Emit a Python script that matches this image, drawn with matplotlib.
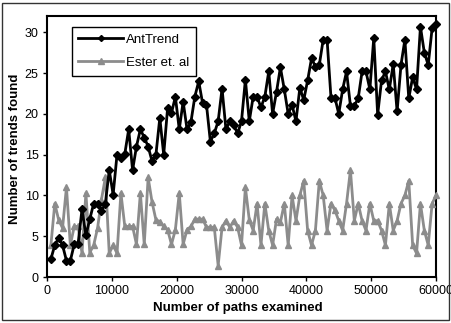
import matplotlib
matplotlib.use("Agg")
from matplotlib import pyplot as plt
from matplotlib.patches import Rectangle

plt.rcParams['font.family'] = ['Liberation Sans', 'DejaVu Sans']

# paths examined: every 600 up to 60000
paths = [600 * (i + 1) for i in range(100)]

ant_trend = [2.2, 3.9, 4.8, 3.9, 2.0, 2.0, 4.0, 4.1, 8.3, 5.1,
             7.1, 9.0, 9.0, 8.1, 9.0, 13.1, 10.1, 15.0, 14.6, 15.1,
             18.1, 13.1, 16.0, 18.1, 17.1, 16.0, 14.2, 15.0, 19.5, 15.0,
             20.7, 20.1, 22.1, 18.1, 21.5, 18.1, 19.0, 22.1, 24.0, 21.3,
             21.1, 16.6, 17.6, 19.1, 23.1, 18.1, 19.1, 18.6, 17.6, 19.1,
             24.2, 19.1, 22.1, 22.1, 20.8, 22.1, 25.2, 20.0, 22.7, 25.7,
             23.0, 20.0, 21.1, 19.1, 23.2, 21.7, 24.1, 26.8, 25.8, 26.0,
             29.1, 29.1, 22.0, 22.0, 20.0, 23.0, 25.2, 21.0, 21.0, 21.9,
             25.2, 25.2, 23.0, 29.3, 19.9, 24.1, 25.2, 23.0, 26.1, 20.3,
             26.0, 29.1, 21.9, 24.5, 23.0, 30.7, 27.5, 26.0, 30.5, 31.0]

ester = [3.9, 9.0, 7.0, 6.0, 11.0, 3.9, 6.2, 6.2, 2.9, 10.3,
         3.0, 3.9, 6.0, 9.5, 12.2, 2.9, 3.9, 2.9, 10.3, 6.2,
         6.2, 6.2, 4.0, 10.3, 4.0, 12.2, 9.2, 7.0, 6.8, 6.2,
         5.8, 4.0, 5.8, 10.3, 4.0, 5.8, 6.2, 7.1, 7.1, 7.1,
         6.1, 6.1, 6.1, 1.4, 6.1, 6.9, 6.1, 6.9, 6.1, 3.9,
         11.0, 7.0, 5.7, 9.0, 3.9, 9.0, 5.7, 3.9, 7.1, 6.7,
         9.0, 3.9, 10.0, 6.9, 10.0, 11.8, 5.7, 3.9, 5.7, 11.8,
         10.0, 5.7, 9.0, 8.2, 6.9, 5.7, 9.0, 13.1, 6.9, 9.0,
         6.9, 5.7, 9.0, 6.9, 6.9, 5.7, 3.9, 9.0, 5.7, 6.9,
         9.0, 10.0, 11.8, 3.9, 2.9, 9.0, 5.7, 3.9, 9.0, 10.0]

fs = 9.5

fig = plt.figure(figsize=(4.51, 3.23), dpi=100)
ax = fig.add_axes([47 / 451, 46 / 323, 389 / 451, 261 / 323])

ax.plot(paths, ester, color='#8c8c8c', lw=2, marker='^', ms=5,
        label='Ester et. al', clip_on=False, zorder=3)
ax.plot(paths, ant_trend, color='black', lw=2, marker='D', ms=3.8,
        label='AntTrend', clip_on=False, zorder=4)

ax.set_xlim(0, 60000)
ax.set_ylim(0, 32)
ax.set_xticks(range(0, 60001, 10000))
ax.set_yticks(range(0, 31, 5))
ax.tick_params(direction='out', length=3, width=1, labelsize=9, pad=3)
for s in ax.spines.values():
    s.set_linewidth(1.5)

ax.set_xlabel('Number of paths examined', fontsize=fs, fontweight='bold')
ax.set_ylabel('Number of trends found', fontsize=fs, fontweight='bold')
ax.xaxis.set_label_coords(0.49, -0.095)
ax.yaxis.set_label_coords(-0.068, 0.49)

h, l = ax.get_legend_handles_labels()
leg = ax.legend(h[::-1], l[::-1], loc='upper left', bbox_to_anchor=(0.0635, 0.959),
                borderaxespad=0, fontsize=fs, fancybox=False, framealpha=1,
                handlelength=3.4, handletextpad=0.25, borderpad=0.5,
                labelspacing=0.85, markerscale=0.8)
leg.get_frame().set_edgecolor('black')
leg.get_frame().set_linewidth(1)

# outer frame around whole chart
fig.patches.append(Rectangle((2 / 451, 3 / 323), 447 / 451, 317 / 323,
                             transform=fig.transFigure, fill=False,
                             edgecolor='#333333', lw=1))

fig.savefig('out.png', dpi=100)
